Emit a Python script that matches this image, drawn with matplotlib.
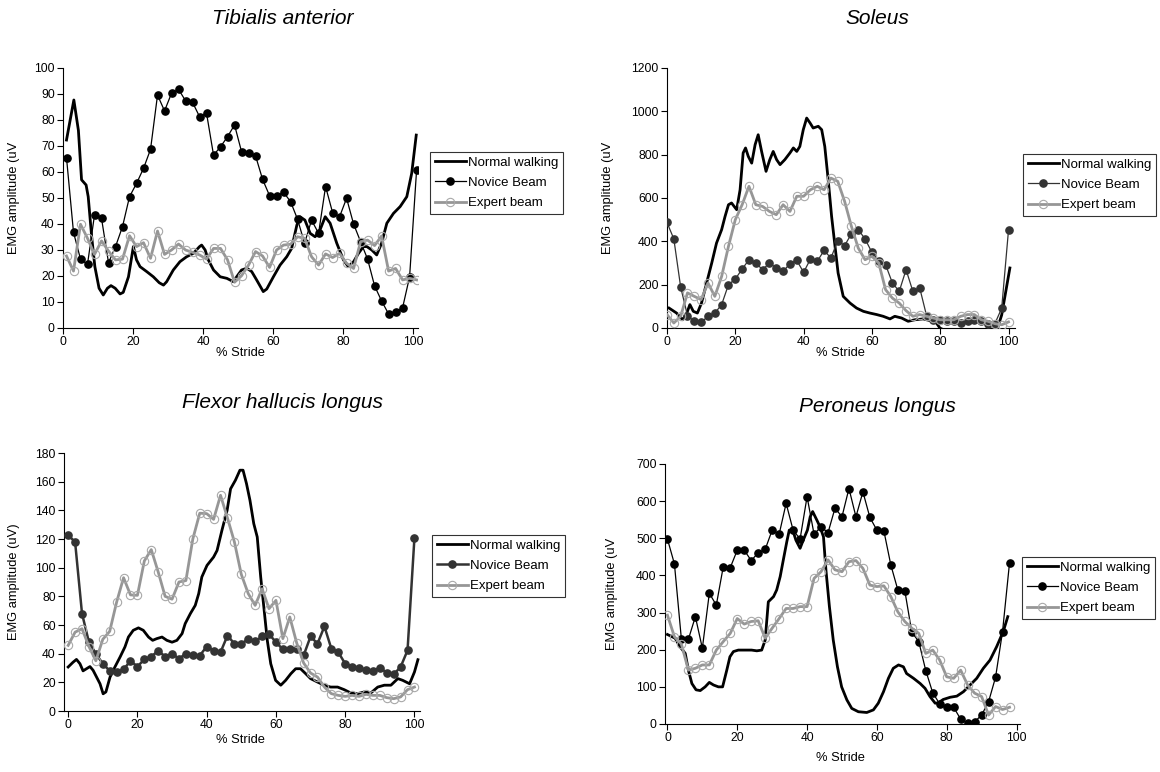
import numpy as np
import matplotlib
matplotlib.use('Agg')
import matplotlib.pyplot as plt

plt.rcParams['font.family'] = ['Liberation Sans', 'DejaVu Sans']

W, H = 1160, 772

# ---- Tibialis anterior ----
ta_stride = np.arange(1, 102, 2)
ta_normal_x = [1.0, 3.1, 4.4, 5.3, 6.6, 7.2, 8.2, 9.1, 10.3, 11.5, 12.7, 13.7, 14.9, 16.3, 17.2, 18.7,
               20.1, 21.0, 22.0, 23.9, 25.8, 27.5, 28.7, 29.6, 31.5, 33.4, 35.3, 37.2, 39.0, 39.6, 40.6,
               41.5, 43.0, 44.9, 46.8, 48.7, 49.6, 51.0, 52.5, 53.9, 55.3, 57.2, 58.2, 60.1, 62.0, 63.9,
               65.3, 66.8, 67.7, 69.1, 70.6, 72.0, 73.2, 74.9, 76.3, 78.2, 80.1, 81.5, 83.0, 84.4, 85.8,
               86.8, 88.2, 89.6, 91.0, 92.5, 94.4, 96.3, 98.2, 99.6, 100.9]
ta_normal = [72.3, 87.7, 76, 57, 55, 50.5, 35, 23.6, 15.3, 12.7, 15.3, 16.3, 15.3, 13.1, 13.7, 19.7,
             31.3, 26.2, 23.6, 21.7, 19.7, 17.4, 16.5, 17.8, 22.3, 25.5, 27.4, 28.7, 31.3, 31.9, 30,
             26.2, 22.3, 19.7, 19.1, 17.8, 19.7, 22.3, 23, 21.7, 18.5, 14, 15, 19.7, 24.2, 27.4,
             30.6, 39.6, 42.8, 41.5, 36.4, 35.1, 37, 42.8, 40.3, 32.6, 26.2, 23.6, 25.5, 28.7, 31.3,
             31.3, 30, 28.1, 32.6, 40.3, 44.1, 46.7, 50.5, 59.5, 74.2]
ta_novice = [65.5, 36.8, 26.5, 24.5, 43.5, 42.2, 25.1, 31.3, 39, 50.5, 55.6, 61.4, 68.7, 89.6, 83.5,
             90.3, 91.8, 87.4, 86.8, 81.3, 82.6, 66.5, 69.7, 73.6, 78.1, 67.8, 67.2, 66.2, 57.2, 50.9,
             50.8, 52.2, 48.6, 41.8, 32.6, 41.5, 36.4, 54.4, 44.4, 42.8, 49.9, 40, 33.2, 26.5, 16.2,
             10.4, 5.4, 6, 7.8, 19.7, 60.8]
ta_expert = [27.7, 21.9, 39.9, 34.5, 28.3, 33.5, 29.6, 26.2, 26.5, 35.5, 31.3, 32.8, 26.8, 37.3, 28.3,
             30, 32.3, 30, 29.1, 28.1, 26.5, 30.6, 30.6, 26.2, 17.6, 20.1, 24.2, 29.4, 27.7, 23.3,
             30, 31.9, 32.2, 35.1, 34.5, 27.4, 24.2, 28.5, 27.1, 28.7, 24.9, 22.9, 33.2, 33.8, 31.7,
             35.4, 21.9, 22.9, 18.5, 19.1, 18.5]

# ---- Soleus ----
so_stride = np.arange(0, 101, 2)
so_normal_x = [0.6, 2.8, 4.6, 5.8, 6.7, 7.7, 8.9, 10.1, 11.6, 13.1, 14.5, 16.0, 17.0, 18.0, 18.9, 20.4,
               21.4, 22.3, 23.0, 23.8, 24.8, 25.8, 26.7, 27.7, 29.0, 30.1, 31.1, 32.1, 33.1, 34.5, 36.0,
               37.0, 38.0, 38.9, 39.9, 40.9, 41.9, 42.8, 44.3, 45.3, 46.2, 47.2, 48.2, 49.2, 50.1, 51.6,
               53.6, 55.5, 57.5, 59.4, 61.4, 63.3, 65.3, 66.7, 68.7, 70.6, 72.6, 75.0, 77.0, 78.9, 79.9,
               85.0, 96.0, 98.0, 100.4]
so_normal = [92, 69, 38, 69, 108, 77, 69, 115, 208, 300, 392, 454, 515, 569, 577, 546,
             638, 808, 831, 792, 761, 846, 892, 815, 723, 777, 815, 777, 754, 777, 808,
             831, 815, 838, 915, 969, 946, 923, 931, 915, 838, 684, 515, 377, 254, 146,
             115, 92, 77, 69, 62, 54, 42, 54, 46, 31, 38, 42, 34, 23, 0,
             -40, -40, 60, 277]
so_novice = [487, 411, 189, 57, 31, 26, 54, 69, 108, 200, 226, 272, 315, 300, 269, 300, 277, 261,
             297, 312, 257, 318, 308, 358, 323, 403, 380, 435, 454, 411, 349, 311, 292, 208, 169,
             269, 169, 185, 57, 38, 35, 30, 30, 25, 30, 35, 30, 20, 20, 91, 452]
so_expert = [62, 23, 54, 162, 146, 131, 208, 146, 238, 377, 500, 569, 654, 569, 561, 538, 523, 569,
             538, 608, 608, 638, 654, 638, 692, 677, 585, 469, 369, 315, 331, 300, 177, 138, 115,
             80, 54, 62, 54, 46, 38, 38, 38, 54, 62, 62, 38, 31, 20, 15, 28]

# ---- Flexor hallucis longus ----
fhl_stride = np.arange(0, 101, 2)
fhl_normal_x = [0, 1.4, 2.4, 3.4, 4.3, 5.3, 6.3, 7.2, 8.2, 9.2, 10.1, 10.9, 12.1, 13.5, 15.0, 16.4,
                17.4, 18.8, 20.3, 21.7, 23.2, 24.4, 25.6, 27.1, 28.5, 30.0, 31.4, 32.9, 33.8, 35.3,
                36.7, 37.7, 38.6, 40.1, 42.0, 43.0, 44.4, 45.9, 46.9, 48.3, 49.6, 50.5, 51.5, 52.5,
                53.6, 54.6, 55.6, 56.5, 57.5, 58.5, 59.9, 61.4, 62.8, 64.3, 65.7, 67.1, 68.6, 70.0,
                72.0, 73.9, 75.8, 77.8, 79.7, 81.6, 83.6, 85.5, 87.4, 89.4, 91.3, 93.2, 95.2, 96.6,
                98.6, 100.0, 101.0]
fhl_normal = [30.7, 34, 36, 33, 28, 29.5, 31, 28.4, 23.7, 19, 12, 13.3, 23.7, 30.7, 37.7, 44.7,
              51.6, 56.3, 58, 56.3, 51.6, 49.3, 50.5, 51.6, 49.3, 48, 49.3, 54, 61, 68,
              73.7, 81.9, 93.5, 101.6, 107.4, 112, 126, 140, 155, 161, 168, 168, 158.6, 147,
              130.7, 121.4, 93.5, 72.6, 49.3, 33, 21.4, 18, 21.4, 26, 29.5, 29.5, 26, 22.6,
              20.2, 18, 16.7, 16.7, 14.9, 12.6, 12.1, 13.3, 12.6, 16.7, 18, 18, 22.6, 21.4,
              19, 27.2, 35.8]
fhl_novice = [122.6, 118, 68, 48, 40, 33, 28, 27, 29, 35, 31, 36, 38, 42, 38, 40, 36.5, 40, 39, 38.6,
              45, 42, 41, 52.6, 47, 47, 50, 48.6, 52, 53.7, 48, 43, 43, 43, 38.8, 52, 47, 59, 43.5,
              41, 33, 30.7, 30.2, 28.4, 27.9, 30.2, 26.7, 25.6, 30.7, 42.3, 121]
fhl_expert = [45.8, 55, 57.4, 45, 35, 50, 55.6, 76, 93, 81, 80.7, 104.7, 112.6, 97, 80, 78, 90, 91,
              120, 138, 137.7, 133.7, 150.5, 134.7, 118, 95.3, 81.9, 73.7, 85.3, 71.4, 77.2, 50.5,
              65.6, 47.4, 33.5, 26.5, 23.7, 16.7, 12.1, 10.9, 10.2, 10.9, 10.2, 11.6, 10.9, 10.9,
              9.3, 8.6, 9.8, 14.9, 16.7]

# ---- Peroneus longus ----
pl_stride = np.arange(0, 99, 2)
pl_normal_x = [0, 2.2, 3.6, 5.1, 6.0, 7.0, 8.2, 9.4, 10.8, 12.0, 13.2, 14.6, 15.8, 17.0, 17.9, 18.9,
               20.3, 22.2, 24.1, 25.6, 27.0, 28.0, 28.9, 30.4, 31.3, 32.3, 33.2, 34.2, 34.9, 35.9,
               36.8, 38.0, 38.9, 40.1, 40.9, 41.6, 42.8, 43.7, 44.7, 45.4, 46.4, 47.5, 48.7, 49.9,
               51.4, 52.8, 54.7, 57.1, 59.0, 60.4, 61.9, 63.3, 64.7, 66.2, 67.6, 68.5, 70.5, 72.4,
               73.8, 75.2, 76.7, 77.6, 79.0, 81.0, 82.9, 84.8, 86.7, 88.6, 90.5, 92.4, 94.3, 96.2, 97.5]
pl_normal = [241, 231, 208, 190, 145, 109, 92, 90, 100, 112, 105, 100, 100, 145, 181, 195,
             199, 199, 199, 197, 199, 226, 329, 343, 361, 397, 442, 491, 522, 522,
             495, 473, 495, 522, 558, 572, 549, 531, 504, 415, 316, 226, 154, 100,
             65, 42, 33, 31, 38, 56, 87, 123, 150, 159, 154, 136, 123, 109,
             96, 74, 56, 57, 66, 72, 75, 87, 105, 123, 150, 172, 208, 249, 289]
pl_novice = [498, 431, 228, 228, 289, 204, 352, 320, 424, 421, 468, 468, 440, 461, 470, 522, 511, 594,
             522, 498, 612, 511, 531, 515, 581, 558, 634, 558, 625, 556, 522, 520, 428, 361, 359, 247,
             222, 144, 84, 54, 47, 45, 13, 2, 6, 24, 60, 126, 249, 434]
pl_expert = [293, 235, 215, 145, 150, 159, 159, 199, 222, 244, 284, 269, 276, 278, 231, 258, 284, 311,
             311, 316, 316, 392, 410, 442, 415, 410, 437, 440, 419, 374, 370, 372, 343, 302, 276, 258,
             244, 190, 199, 172, 127, 123, 145, 105, 83, 74, 24, 47, 39, 45]

labels = ['Normal walking', 'Novice Beam', 'Expert beam']


def panel(fig, box, xlim, ymax, ystep, nx, ny, stride, novice, expert, nov_color, nov_lw,
          title, title_xy, ylabel, ylabel_xy, xlabel_xy, legend_xy):
    left, right, top, bottom = box
    ax = fig.add_axes([left / W, 1 - bottom / H, (right - left) / W, (bottom - top) / H])
    ax.plot(nx, ny, color='black', lw=2.0, zorder=2)
    ax.plot(stride, novice, color=nov_color, lw=nov_lw, marker='o', ms=5.2,
            mfc=nov_color, mec=nov_color, zorder=3)
    ax.plot(stride, expert, color='#969696', lw=2.0, marker='o', ms=6, mfc='none',
            mec='#a8a8a8', mew=0.8, zorder=4)
    ax.set_xlim(*xlim)
    ax.set_ylim(0, ymax)
    ax.set_xticks(range(0, 101, 20))
    ax.set_yticks(np.arange(0, ymax + 1, ystep))
    for s in ['top', 'right']:
        ax.spines[s].set_visible(False)
    for s in ['left', 'bottom']:
        ax.spines[s].set_linewidth(0.8)
    ax.tick_params(direction='out', length=4, width=0.8, labelsize=8.7, pad=2)
    ax.patch.set_alpha(0)
    fig.text(title_xy[0] / W, 1 - title_xy[1] / H, title, style='italic', fontsize=15,
             ha='center', va='center')
    fig.text(ylabel_xy[0] / W, 1 - ylabel_xy[1] / H, ylabel, rotation=90, fontsize=9.3,
             ha='center', va='center')
    fig.text(xlabel_xy[0] / W, 1 - xlabel_xy[1] / H, '% Stride', fontsize=9.3,
             ha='center', va='center')
    leg = ax.legend(labels, loc='upper left', bbox_to_anchor=(legend_xy[0] / W, 1 - legend_xy[1] / H),
                    bbox_transform=fig.transFigure, fontsize=9.5, frameon=True, fancybox=False,
                    handlelength=2.4, handletextpad=0.15, borderpad=0.35, labelspacing=0.6,
                    borderaxespad=0)
    leg.get_frame().set_edgecolor('black')
    leg.get_frame().set_linewidth(0.8)
    return ax


fig = plt.figure(figsize=(11.6, 7.72), dpi=100)

panel(fig, (63, 418, 68, 328), (0, 101.4), 100, 10, ta_normal_x, ta_normal, ta_stride,
      ta_novice, ta_expert, 'black', 0.9, 'Tibialis anterior', (283, 19),
      'EMG amplitude (uV', (14, 198), (240, 353), (430, 152))
panel(fig, (667, 1015, 68, 328), (0, 101.9), 1200, 200, so_normal_x, so_normal, so_stride,
      so_novice, so_expert, '#333333', 0.9, 'Soleus', (877, 19),
      'EMG amplitude (uV', (608, 198), (840, 353), (1023, 154))
panel(fig, (64, 420, 453, 711), (-1.2, 101.6), 180, 20, fhl_normal_x, fhl_normal, fhl_stride,
      fhl_novice, fhl_expert, '#333333', 1.8, 'Flexor hallucis longus', (282, 403),
      'EMG amplitude (uV)', (14, 582), (240, 740), (432, 535))
panel(fig, (665, 1020, 464, 724), (-0.7, 101), 700, 100, pl_normal_x, pl_normal, pl_stride,
      pl_novice, pl_expert, 'black', 0.9, 'Peroneus longus', (877, 407),
      'EMG amplitude (uV', (612, 594), (840, 758), (1022, 557))

plt.savefig('out.png', dpi=100)
